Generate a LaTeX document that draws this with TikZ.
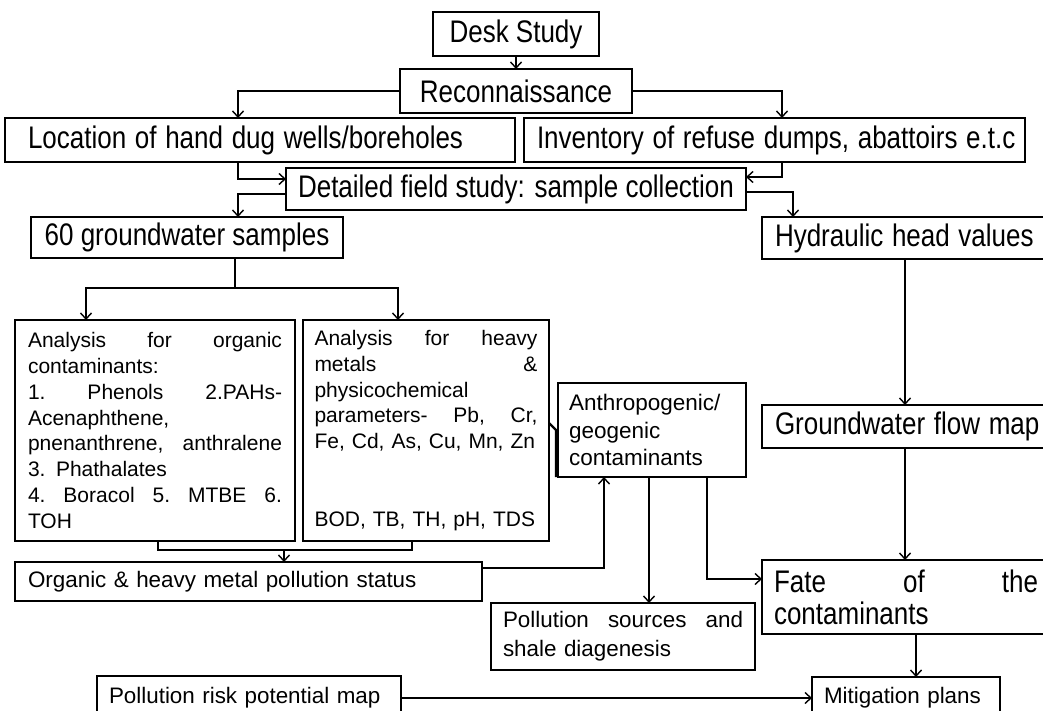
\documentclass[tikz,border=0pt]{standalone}
\usepackage{fontspec}
\usepackage{graphicx}
\setmainfont{Liberation Sans}
\usetikzlibrary{arrows.meta,calc}
\newcommand{\fbig}{\fontsize{26}{31}\selectfont}
\newcommand{\vs}[1]{\scalebox{1}[1.2]{#1}}
\newcommand{\fmid}{\fontsize{22.4}{27.5}\selectfont\spaceskip=9.5pt plus 2pt\relax}
\newcommand{\fsmall}{\fontsize{21}{25.9}\selectfont}
\begin{document}
\begin{tikzpicture}[x=1pt,y=-1pt,
  box/.style={draw, line width=1.3pt, inner ysep=0pt, outer sep=0pt},
  cbox/.style={box, align=center, inner xsep=0pt},
  lbox/.style={box, align=left},
  conn/.style={line width=1.4pt, -{Straight Barb[length=6pt,width=11pt]}},
  plain/.style={line width=1.4pt}]
\useasboundingbox (0,0) rectangle (1043,711);
\clip (0,0) rectangle (1043,711);
% boxes
\node[cbox, font=\fbig, minimum width=166pt, minimum height=44pt] (desk) at (516,34) {\vs{Desk Study}};
\node[cbox, font=\fbig, minimum width=232pt, minimum height=44pt] (recon) at (516,91) {\vs{Reconnaissance}};
\node[lbox, font=\fbig, minimum width=510pt, minimum height=44pt, inner xsep=23pt, text width=464pt] (loc) at (260,140) {\vs{Location of hand dug wells/boreholes}};
\node[lbox, font=\fbig, minimum width=501pt, minimum height=44pt, inner xsep=10.5pt, text width=480pt] (inv) at (774.5,140) {\hspace*{2.5pt}\vs{Inventory of refuse dumps, abattoirs e.t.c}};
\node[cbox, font=\fbig, minimum width=460pt, minimum height=42pt] (det) at (516,189) {\vs{Detailed field study: sample collection}};
\node[cbox, font=\fbig, minimum width=312pt, minimum height=41pt] (sixty) at (187,237.5) {\vs{60 groundwater samples}};
\node[lbox, font=\fbig, minimum width=300pt, minimum height=42pt, inner xsep=13pt, text width=274pt] (hyd) at (912,238) {\vs{Hydraulic head values}};
\node[lbox, font=\fsmall, minimum width=280pt, minimum height=221pt, inner xsep=13pt, text width=254pt] (org) at (155,430.5)
  {Analysis\hfill for\hfill organic\\contaminants:\\1.\hfill Phenols\hfill 2.PAHs-\\Acenaphthene,\\pnenanthrene,\hfill anthralene\\3. Phathalates\\4.\hfill Boracol\hfill 5.\hfill MTBE\hfill 6.\\TOH};
\node[lbox, font=\fsmall, minimum width=246pt, minimum height=221pt, inner xsep=11.5pt, text width=223pt] (heavy) at (426,430.5)
  {Analysis\hfill for\hfill heavy\\metals\hfill \&\\physicochemical\\parameters-\hfill Pb,\hfill Cr,\\Fe, Cd, As, Cu, Mn, Zn\\\mbox{}\\\mbox{}\\BOD, TB, TH, pH, TDS};
\node[lbox, font={\fontsize{22.5}{27.5}\selectfont}, minimum width=188pt, minimum height=94pt, inner xsep=11pt, text width=166pt] (anthro) at (652,430)
  {Anthropogenic/\\geogenic\\contaminants};
\node[lbox, font=\fbig, minimum width=300pt, minimum height=43pt, inner xsep=13pt, text width=274pt] (gflow) at (912,426.5) {\vs{Groundwater flow map}};
\node[lbox, font=\fmid, minimum width=467pt, minimum height=39pt, inner xsep=13pt, text width=441pt] (status) at (248.5,581.5) {Organic \& heavy metal pollution status};
\node[lbox, font={\fontsize{22.4}{29}\selectfont}, minimum width=264pt, minimum height=67pt, inner xsep=12pt, text width=240pt] (srcs) at (623,636.5)
  {Pollution\hfill sources\hfill and\\shale diagenesis};
\node[lbox, font={\fontsize{26}{32}\selectfont}, minimum width=288pt, minimum height=74pt, inner xsep=12pt, text width=264pt] (fate) at (906,597)
  {\vs{Fate}\hfill\vs{of}\hfill\vs{the}\\\vs{contaminants}};
\node[lbox, font=\fmid, minimum width=304pt, minimum height=44pt, inner xsep=12pt, text width=280pt] (risk) at (249,698) {Pollution risk potential map};
\node[lbox, font=\fmid, minimum width=188pt, minimum height=42pt, inner xsep=12pt, text width=164pt] (mitig) at (906,698) {Mitigation plans};
% connectors
\draw[conn] (desk.south) -- (recon.north);
\draw[conn] (recon.west) -| ($(loc.north west)+(233,0)$);
\draw[conn] (recon.east) -| ($(inv.north west)+(258,0)$);
\draw[conn] ($(loc.south west)+(233,0)$) |- ($(det.north west)+(0,11)$);
\draw[conn] ($(inv.south west)+(258,0)$) |- ($(det.north east)+(0,9)$);
\draw[conn] ($(det.north west)+(0,26)$) -| ($(sixty.north west)+(207,0)$);
\draw[conn] ($(det.north east)+(0,24)$) -| ($(hyd.north west)+(31,0)$);
\coordinate (split) at ($(sixty.south west)+(204,30)$);
\draw[plain] ($(sixty.south west)+(204,0)$) -- (split);
\draw[conn] (split) -| ($(org.north west)+(71,0)$);
\draw[conn] (split) -| ($(heavy.north west)+(95,0)$);
\draw[plain] ($(org.south west)+(143,0)$) |- ($(heavy.south west)+(109,9)$) -- ($(heavy.south west)+(109,0)$);
\coordinate (merge) at ($(org.south west)+(269,9)$);
\draw[conn] (merge) -- (merge |- status.north);
\draw[conn] ($(status.north east)+(0,6)$) -| ($(anthro.south west)+(46,0)$);
\draw[conn] ($(anthro.south west)+(91,0)$) -- ($(srcs.north west)+(158,0)$);
\draw[conn] ($(anthro.south west)+(149,0)$) |- ($(fate.north west)+(0,19)$);
\draw[conn] ($(hyd.south west)+(143,0)$) -- ($(gflow.north west)+(143,0)$);
\draw[conn] ($(gflow.south west)+(143,0)$) -- ($(fate.north west)+(143,0)$);
\draw[conn] ($(fate.south west)+(154,0)$) -- ($(mitig.north west)+(104,0)$);
\draw[conn] (risk.east) -- (mitig.west);
\draw[line width=2.4pt] ($(heavy.north east)+(0,103)$) -- ($(anthro.north west)+(-2,47)$) -- ($(anthro.south west)+(-2,0)$);
\end{tikzpicture}
\end{document}
